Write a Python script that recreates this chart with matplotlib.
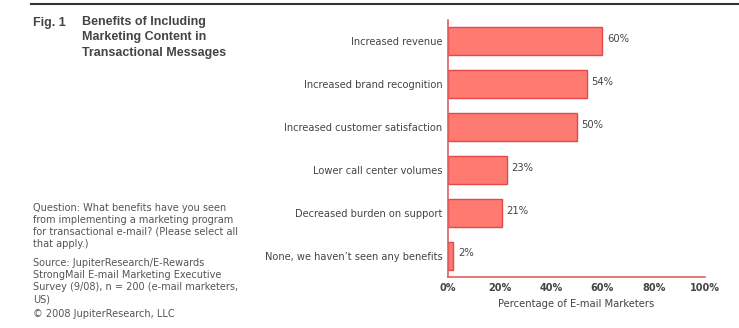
import matplotlib.pyplot as plt
from matplotlib.lines import Line2D

# --- data ---
categories = ['Increased revenue', 'Increased brand recognition',
              'Increased customer satisfaction', 'Lower call center volumes',
              'Decreased burden on support', "None, we haven\u2019t seen any benefits"]
values = [60, 54, 50, 23, 21, 2]
x_ticks = [0, 20, 40, 60, 80, 100]
x_tick_labels = ['0%', '20%', '40%', '60%', '80%', '100%']

NARROW = ['Liberation Sans', 'DejaVu Sans']
plt.rcParams['font.family'] = ['DejaVu Sans']

BAR = '#ff7b72'
EDGE = '#e5474b'
TXT = '#444444'

fig = plt.figure(figsize=(7.39, 3.28), dpi=100)
ax = fig.add_axes([448 / 739, 1 - 277 / 328, 257 / 739, 257 / 328])

y = list(range(len(categories)))
ax.barh(y, values, height=0.65, color=BAR, edgecolor=EDGE, linewidth=1)
for yi, v in zip(y, values):
    ax.text(v + 1.8, yi - 0.05, f'{v}%', va='center', ha='left', fontsize=7.2, color=TXT)

ax.set_xlim(0, 100)
ax.set_ylim(len(categories) - 0.5, -0.5)
ax.set_yticks(y)
ax.set_yticklabels(categories, fontsize=7.1, color=TXT)
ax.set_xticks(x_ticks)
ax.set_xticklabels(x_tick_labels, fontsize=7, color=TXT, fontweight='bold')
ax.tick_params(length=0, pad=4)
for s in ['top', 'right']:
    ax.spines[s].set_visible(False)
for s in ['left', 'bottom']:
    ax.spines[s].set_color('#e06060')
    ax.spines[s].set_linewidth(1.2)
ax.set_xlabel('Percentage of E-mail Marketers', fontsize=7.2, color=TXT, labelpad=4.5)

# top rule
fig.add_artist(Line2D([31 / 739, 1], [1 - 4 / 328, 1 - 4 / 328], color='#333333', lw=1.5))

# figure title
fig.text(33 / 739, 1 - 23 / 328, 'Fig. 1', fontsize=9, fontweight='bold', color='#444444',
         family=NARROW, va='center')
fig.text(82 / 739, 1 - 16 / 328, 'Benefits of Including\nMarketing Content in\nTransactional Messages',
         fontsize=9, fontweight='bold', color='#444444', family=NARROW, va='top',
         linespacing=1.38)

# notes
note = ('Question: What benefits have you seen\n'
        'from implementing a marketing program\n'
        'for transactional e-mail? (Please select all\n'
        'that apply.)')
source = ('Source: JupiterResearch/E-Rewards\n'
          'StrongMail E-mail Marketing Executive\n'
          'Survey (9/08), n = 200 (e-mail marketers,\n'
          'US)')
fig.text(33 / 739, 1 - 203 / 328, note, fontsize=7, color='#555555', va='top', linespacing=1.25)
fig.text(33 / 739, 1 - 258 / 328, source, fontsize=7, color='#555555', va='top', linespacing=1.25)
fig.text(33 / 739, 1 - 309 / 328, '\u00a9 2008 JupiterResearch, LLC', fontsize=7, color='#555555',
         va='top')

fig.savefig('out.png', dpi=100)
